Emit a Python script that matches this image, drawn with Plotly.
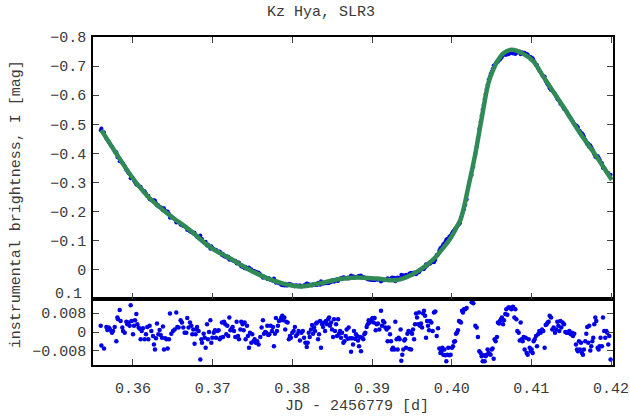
import plotly.graph_objects as go

jd = [
    0.35595, 0.35603, 0.35636, 0.35666, 0.35678, 0.35695, 0.35707, 0.35728, 0.35737, 0.35749,
    0.35770, 0.35791, 0.35804, 0.35812, 0.35833, 0.35845, 0.35866, 0.35875, 0.35896, 0.35916,
    0.35929, 0.35946, 0.35958, 0.35971, 0.35983, 0.36000, 0.36013, 0.36025, 0.36042, 0.36054,
    0.36071, 0.36084, 0.36096, 0.36109, 0.36125, 0.36146, 0.36163, 0.36180, 0.36192, 0.36209,
    0.36230, 0.36251, 0.36263, 0.36276, 0.36288, 0.36301, 0.36318, 0.36334, 0.36347, 0.36364,
    0.36376, 0.36389, 0.36405, 0.36422, 0.36435, 0.36451, 0.36464, 0.36481, 0.36502, 0.36523,
    0.36543, 0.36556, 0.36573, 0.36598, 0.36614, 0.36631, 0.36648, 0.36669, 0.36681, 0.36698,
    0.36715, 0.36732, 0.36744, 0.36757, 0.36773, 0.36786, 0.36798,
    0.36804, 0.36824, 0.36845, 0.36858, 0.36866, 0.36887, 0.36900, 0.36912, 0.36929, 0.36941,
    0.36954, 0.36971, 0.36983, 0.36996, 0.37013, 0.37029, 0.37042, 0.37059, 0.37075, 0.37088,
    0.37100, 0.37117, 0.37130, 0.37142, 0.37159, 0.37171, 0.37184, 0.37196, 0.37209, 0.37222,
    0.37238, 0.37251, 0.37268, 0.37284, 0.37301, 0.37318, 0.37330, 0.37347, 0.37359, 0.37376,
    0.37389, 0.37401, 0.37414, 0.37431, 0.37443, 0.37456, 0.37468, 0.37485, 0.37497, 0.37514,
    0.37527, 0.37543, 0.37560, 0.37577, 0.37598, 0.37614, 0.37631, 0.37644, 0.37660, 0.37673,
    0.37686, 0.37698, 0.37711, 0.37727, 0.37744, 0.37757, 0.37769, 0.37782, 0.37794, 0.37807,
    0.37819, 0.37832, 0.37849, 0.37861, 0.37874, 0.37886, 0.37899, 0.37911, 0.37924, 0.37941,
    0.37957, 0.37970, 0.37982, 0.37999, 0.38016, 0.38032, 0.38045, 0.38062, 0.38078, 0.38095,
    0.38114, 0.38131, 0.38147, 0.38164, 0.38181, 0.38193, 0.38206, 0.38218, 0.38235, 0.38248,
    0.38260, 0.38273, 0.38285, 0.38298, 0.38310, 0.38323, 0.38335, 0.38348, 0.38360, 0.38373,
    0.38386, 0.38398, 0.38411, 0.38423, 0.38436, 0.38448, 0.38461, 0.38473, 0.38486, 0.38498,
    0.38511, 0.38523, 0.38536, 0.38549, 0.38561, 0.38574, 0.38586, 0.38599, 0.38611, 0.38624,
    0.38641, 0.38653, 0.38670, 0.38682, 0.38695, 0.38707, 0.38724, 0.38737, 0.38749, 0.38762,
    0.38774, 0.38787, 0.38799, 0.38812, 0.38824, 0.38837, 0.38850, 0.38862, 0.38875, 0.38891,
    0.38904, 0.38916, 0.38933, 0.38946, 0.38958, 0.38971, 0.38983, 0.38996, 0.39008, 0.39021,
    0.39033, 0.39046, 0.39059, 0.39075, 0.39092, 0.39113, 0.39125, 0.39138, 0.39155, 0.39167,
    0.39184, 0.39196, 0.39209, 0.39226, 0.39238, 0.39251, 0.39263, 0.39280, 0.39293, 0.39309,
    0.39322, 0.39334, 0.39347, 0.39359, 0.39368, 0.39380, 0.39393, 0.39405,
    0.39415, 0.39427, 0.39444, 0.39457, 0.39469, 0.39482, 0.39490, 0.39503, 0.39515, 0.39528,
    0.39540, 0.39553, 0.39565, 0.39578, 0.39590, 0.39603, 0.39615, 0.39628, 0.39641, 0.39653,
    0.39666, 0.39678, 0.39691, 0.39703, 0.39716, 0.39728, 0.39745, 0.39762, 0.39778, 0.39795,
    0.39812, 0.39829, 0.39845, 0.39858, 0.39870, 0.39883, 0.39895, 0.39908, 0.39921, 0.39933,
    0.39946, 0.39958, 0.39971, 0.39987, 0.40004, 0.40017, 0.40029, 0.40042, 0.40054, 0.40067,
    0.40079, 0.40092, 0.40105, 0.40117, 0.40130, 0.40142, 0.40155, 0.40171, 0.40188, 0.40251,
    0.40272, 0.40297, 0.40314, 0.40330, 0.40347, 0.40364, 0.40376, 0.40389, 0.40401, 0.40414,
    0.40426, 0.40439, 0.40451, 0.40464, 0.40477, 0.40489, 0.40502, 0.40514, 0.40527, 0.40539,
    0.40552, 0.40568, 0.40581, 0.40594, 0.40606, 0.40619, 0.40631, 0.40644, 0.40656, 0.40673,
    0.40686, 0.40698, 0.40711,
    0.40728, 0.40749, 0.40770, 0.40787, 0.40799, 0.40812, 0.40824, 0.40841, 0.40854, 0.40866,
    0.40879, 0.40891, 0.40904, 0.40916, 0.40929, 0.40941, 0.40954, 0.40967, 0.40979, 0.40992,
    0.41004, 0.41017, 0.41029, 0.41042, 0.41059, 0.41071, 0.41084, 0.41100, 0.41117, 0.41134,
    0.41150, 0.41167, 0.41180, 0.41192, 0.41205, 0.41217, 0.41230, 0.41247, 0.41263, 0.41280,
    0.41297, 0.41314, 0.41326, 0.41339, 0.41351, 0.41364, 0.41376, 0.41393, 0.41410, 0.41426,
    0.41443, 0.41460, 0.41477, 0.41493, 0.41510, 0.41523, 0.41539, 0.41560, 0.41573, 0.41585,
    0.41598, 0.41610, 0.41623, 0.41635, 0.41648, 0.41660, 0.41677, 0.41690, 0.41702, 0.41715,
    0.41727, 0.41740, 0.41752, 0.41765, 0.41777, 0.41790, 0.41803, 0.41815, 0.41832, 0.41844,
    0.41857, 0.41869, 0.41886, 0.41899, 0.41915, 0.41928, 0.41941, 0.41953, 0.41966, 0.41978,
    0.41995,
]

mag = [
    -0.480, -0.486, -0.473, -0.451, -0.447, -0.439, -0.434, -0.426, -0.423, -0.417,
    -0.406, -0.404, -0.388, -0.386, -0.373, -0.373, -0.367, -0.365, -0.357, -0.344,
    -0.340, -0.332, -0.329, -0.315, -0.316, -0.315, -0.307, -0.301, -0.293, -0.293,
    -0.289, -0.285, -0.286, -0.278, -0.272, -0.270, -0.262, -0.253, -0.255, -0.243,
    -0.241, -0.238, -0.239, -0.238, -0.230, -0.221, -0.222, -0.216, -0.215, -0.213,
    -0.205, -0.212, -0.203, -0.200, -0.201, -0.193, -0.179, -0.184, -0.179, -0.174,
    -0.163, -0.166, -0.163, -0.155, -0.153, -0.151, -0.150, -0.146, -0.137, -0.138,
    -0.132, -0.130, -0.130, -0.125, -0.128, -0.121, -0.116,
    -0.114, -0.111, -0.118, -0.106, -0.106, -0.097, -0.096, -0.097, -0.084, -0.087,
    -0.081, -0.073, -0.081, -0.076, -0.072, -0.068, -0.069, -0.064, -0.061, -0.063,
    -0.060, -0.051, -0.055, -0.047, -0.045, -0.048, -0.042, -0.045, -0.035, -0.038,
    -0.035, -0.032, -0.031, -0.031, -0.022, -0.025, -0.025, -0.018, -0.012, -0.011,
    -0.011, -0.006, -0.011, -0.003, -0.005, -0.008, 0.000, -0.002, 0.003, 0.003,
    0.005, 0.006, 0.009, 0.009, 0.015, 0.021, 0.027, 0.023, 0.025, 0.027,
    0.031, 0.028, 0.030, 0.035, 0.034, 0.037, 0.030, 0.037, 0.044, 0.040,
    0.043, 0.046, 0.048, 0.051, 0.053, 0.052, 0.054, 0.049, 0.054, 0.054,
    0.048, 0.050, 0.049, 0.052, 0.054, 0.056, 0.053, 0.054, 0.056, 0.053,
    0.057, 0.056, 0.053, 0.050, 0.047, 0.048, 0.052, 0.050, 0.052, 0.054,
    0.049, 0.051, 0.049, 0.052, 0.052, 0.044, 0.046, 0.051, 0.039, 0.048,
    0.046, 0.047, 0.043, 0.046, 0.044, 0.046, 0.045, 0.041, 0.042, 0.038,
    0.034, 0.041, 0.035, 0.037, 0.032, 0.038, 0.031, 0.031, 0.028, 0.030,
    0.025, 0.026, 0.028, 0.030, 0.026, 0.030, 0.025, 0.019, 0.025, 0.022,
    0.027, 0.024, 0.025, 0.024, 0.023, 0.020, 0.025, 0.019, 0.025, 0.024,
    0.026, 0.027, 0.030, 0.032, 0.033, 0.033, 0.034, 0.034, 0.035, 0.033,
    0.036, 0.031, 0.033, 0.034, 0.032, 0.040, 0.034, 0.036, 0.036, 0.034,
    0.034, 0.029, 0.035, 0.032, 0.030, 0.026, 0.027, 0.027, 0.039, 0.032,
    0.026, 0.030, 0.028, 0.031, 0.017, 0.018, 0.019, 0.022,
    0.021, 0.017, 0.021, 0.021, 0.012, 0.018, 0.010, 0.015, 0.016, 0.009,
    0.013, 0.015, 0.011, 0.006, 0.008, 0.000, -0.001, -0.005, -0.002, -0.003,
    -0.008, -0.019, -0.014, -0.019, -0.023, -0.021, -0.025, -0.032, -0.026, -0.034,
    -0.051, -0.053, -0.067, -0.074, -0.077, -0.080, -0.088, -0.090, -0.097, -0.104,
    -0.106, -0.107, -0.115, -0.118, -0.126, -0.132, -0.135, -0.141, -0.144, -0.150,
    -0.154, -0.157, -0.161, -0.180, -0.190, -0.204, -0.208, -0.224, -0.242, -0.326,
    -0.354, -0.397, -0.424, -0.452, -0.484, -0.510, -0.530, -0.551, -0.566, -0.587,
    -0.603, -0.621, -0.636, -0.653, -0.663, -0.673, -0.681, -0.690, -0.702, -0.701,
    -0.709, -0.716, -0.715, -0.720, -0.723, -0.727, -0.731, -0.738, -0.740, -0.739,
    -0.739, -0.742, -0.741,
    -0.743, -0.746, -0.743, -0.746, -0.742, -0.745, -0.749, -0.748, -0.750, -0.741,
    -0.747, -0.747, -0.743, -0.746, -0.738, -0.742, -0.740, -0.731, -0.732, -0.731,
    -0.728, -0.727, -0.719, -0.713, -0.704, -0.704, -0.693, -0.685, -0.678, -0.670,
    -0.664, -0.664, -0.649, -0.643, -0.637, -0.632, -0.624, -0.618, -0.616, -0.609,
    -0.604, -0.595, -0.587, -0.584, -0.581, -0.571, -0.569, -0.560, -0.553, -0.550,
    -0.543, -0.535, -0.527, -0.522, -0.514, -0.509, -0.502, -0.497, -0.494, -0.489,
    -0.479, -0.477, -0.470, -0.469, -0.465, -0.458, -0.448, -0.440, -0.432, -0.434,
    -0.422, -0.428, -0.421, -0.414, -0.408, -0.397, -0.389, -0.386, -0.391, -0.386,
    -0.379, -0.371, -0.367, -0.350, -0.349, -0.346, -0.338, -0.333, -0.333, -0.324,
    -0.327,
]

resid = [
    0.0026, -0.0057, -0.0070, 0.0021, 0.0009, 0.0019, 0.0014, 0.0004, -0.0003, 0.0004,
    0.0021, -0.0039, 0.0061, 0.0054, 0.0093, 0.0047, 0.0019, 0.0004, -0.0003, 0.0044,
    0.0033, 0.0040, 0.0026, 0.0113, 0.0047, -0.0010, 0.0026, 0.0050, 0.0076, 0.0033,
    0.0019, 0.0014, -0.0031, 0.0004, 0.0016, -0.0031, -0.0010, 0.0021, -0.0031, 0.0026,
    0.0004, -0.0017, -0.0053, -0.0074, -0.0027, 0.0036, -0.0010, 0.0009, -0.0013, -0.0024,
    0.0023, -0.0074, -0.0027, -0.0031, -0.0070, -0.0031, 0.0079, -0.0007, 0.0004, 0.0011,
    0.0083, 0.0021, 0.0019, 0.0050, 0.0040, 0.0019, -0.0003, -0.0003, 0.0059, 0.0019,
    0.0040, 0.0026, -0.0010, 0.0011, -0.0050, -0.0010, 0.0011,
    0.0021, 0.0004, -0.0117, -0.0031, -0.0046, -0.0007, -0.0024, -0.0067, 0.0033, -0.0031,
    0.0000, 0.0050, -0.0046, -0.0024, -0.0003, 0.0007, -0.0024, 0.0004, 0.0007, -0.0031,
    -0.0024, 0.0040, -0.0021, 0.0044, 0.0033, -0.0010, 0.0026, -0.0017, 0.0061, 0.0007,
    0.0014, 0.0021, 0.0004, -0.0021, 0.0044, -0.0017, -0.0031, 0.0011, 0.0044, 0.0033,
    0.0007, 0.0040, -0.0031, 0.0026, -0.0017, -0.0067, -0.0003, -0.0046, -0.0010, -0.0039,
    -0.0031, -0.0046, -0.0039, -0.0053, -0.0021, 0.0019, 0.0050, -0.0007, 0.0000, -0.0003,
    0.0026, -0.0013, -0.0010, 0.0026, 0.0004, 0.0021, -0.0060, -0.0007, 0.0059, 0.0004,
    0.0026, 0.0047, 0.0050, 0.0061, 0.0069, 0.0050, 0.0061, 0.0011, 0.0044, 0.0040,
    -0.0031, -0.0017, -0.0024, -0.0003, 0.0004, 0.0021, -0.0017, -0.0010, 0.0004, -0.0036,
    -0.0003, 0.0004, -0.0024, -0.0046, -0.0064, -0.0046, -0.0003, -0.0021, 0.0011, 0.0030,
    -0.0007, 0.0019, 0.0004, 0.0036, 0.0040, -0.0031, -0.0010, 0.0047, -0.0067, 0.0033,
    0.0021, 0.0040, 0.0004, 0.0047, 0.0033, 0.0054, 0.0061, 0.0026, 0.0040, 0.0011,
    -0.0021, 0.0054, 0.0004, 0.0033, -0.0017, 0.0054, -0.0007, 0.0004, -0.0024, -0.0003,
    -0.0046, -0.0039, -0.0017, 0.0011, -0.0029, 0.0019, -0.0027, -0.0084, -0.0027, -0.0053,
    0.0004, -0.0029, -0.0010, -0.0017, -0.0036, -0.0060, -0.0021, -0.0082, -0.0024, -0.0031,
    -0.0010, -0.0003, 0.0021, 0.0033, 0.0050, 0.0040, 0.0047, 0.0054, 0.0059, 0.0040,
    0.0059, 0.0007, 0.0033, 0.0036, 0.0011, 0.0090, 0.0026, 0.0047, 0.0040, 0.0019,
    0.0011, -0.0039, 0.0019, -0.0010, -0.0039, -0.0074, -0.0067, -0.0074, 0.0044, -0.0031,
    -0.0074, -0.0024, -0.0031, 0.0011, -0.0122, -0.0096, -0.0074, -0.0036,
    -0.0031, -0.0067, -0.0007, 0.0004, -0.0072, 0.0000, -0.0074, -0.0007, 0.0011, -0.0031,
    0.0033, 0.0079, 0.0061, 0.0033, 0.0083, 0.0026, 0.0036, 0.0019, 0.0079, 0.0090,
    0.0069, -0.0024, 0.0047, 0.0026, 0.0007, 0.0047, 0.0040, 0.0004, 0.0083, 0.0087,
    -0.0017, 0.0016, -0.0070, -0.0089, -0.0082, -0.0067, -0.0096, -0.0074, -0.0099, -0.0124,
    -0.0096, -0.0067, -0.0099, -0.0096, -0.0067, -0.0060, -0.0041, -0.0039, -0.0007, -0.0003,
    0.0007, 0.0047, 0.0044, 0.0040, 0.0090, 0.0083, 0.0097, 0.0097, 0.0102, 0.0126,
    0.0122, 0.0026, 0.0019, -0.0021, -0.0082, -0.0089, -0.0103, -0.0124, -0.0099, -0.0124,
    -0.0103, -0.0096, -0.0074, -0.0089, -0.0093, -0.0096, -0.0074, -0.0070, -0.0113, -0.0031,
    -0.0039, -0.0021, 0.0040, 0.0036, 0.0047, 0.0054, 0.0061, 0.0033, 0.0050, 0.0076,
    0.0097, 0.0073, 0.0104,
    0.0104, 0.0097, 0.0107, 0.0061, 0.0097, 0.0054, 0.0004, -0.0003, -0.0036, 0.0040,
    -0.0031, -0.0039, -0.0021, -0.0074, -0.0024, -0.0089, -0.0096, -0.0031, -0.0067, -0.0082,
    -0.0074, -0.0089, -0.0039, -0.0031, -0.0017, -0.0060, -0.0010, 0.0004, -0.0003, 0.0011,
    0.0004, -0.0067, 0.0030, 0.0033, 0.0040, 0.0044, 0.0069, 0.0061, 0.0011, 0.0019,
    -0.0003, 0.0011, 0.0044, 0.0026, 0.0004, 0.0047, 0.0019, 0.0040, 0.0033, 0.0000,
    -0.0003, -0.0003, 0.0004, -0.0010, -0.0003, -0.0017, -0.0007, -0.0053, -0.0074, -0.0082,
    -0.0039, -0.0074, -0.0046, -0.0089, -0.0096, -0.0074, -0.0039, -0.0007, 0.0021, -0.0046,
    0.0026, -0.0079, -0.0060, -0.0039, -0.0024, 0.0033, 0.0061, 0.0047, -0.0067, -0.0074,
    -0.0060, -0.0024, -0.0060, 0.0061, 0.0004, -0.0024, 0.0004, -0.0003, -0.0053, -0.0017,
    -0.0117,
]

# ---- fitted model curve (green line) ----
model_jd = [0.35602, 0.35790, 0.36000, 0.36209, 0.36460, 0.36711, 0.36963, 0.37214, 0.37465,
            0.37680, 0.37900, 0.38100, 0.38350, 0.38600, 0.38810, 0.39060, 0.39310, 0.39510,
            0.39770, 0.39853, 0.39979, 0.40060, 0.40110, 0.40150, 0.40210, 0.40290, 0.40380,
            0.40460, 0.40520, 0.40570, 0.40650, 0.40750, 0.40900, 0.41030, 0.41150, 0.41400,
            0.41610, 0.41820, 0.42010]
model_mag = [-0.480, -0.400, -0.314, -0.246, -0.188, -0.137, -0.079, -0.040, 0.000,
             0.028, 0.048, 0.057, 0.046, 0.031, 0.026, 0.030, 0.035, 0.015,
             -0.036, -0.062, -0.106, -0.145, -0.172, -0.210, -0.286, -0.389, -0.526,
             -0.641, -0.687, -0.715, -0.744, -0.756, -0.742, -0.715, -0.664, -0.561,
             -0.470, -0.389, -0.309]

assert len(jd) == len(mag) == len(resid), (len(jd), len(mag), len(resid))
assert len(model_jd) == len(model_mag)

x_ticks = [0.36, 0.37, 0.38, 0.39, 0.40, 0.41, 0.42]
y_main_ticks = [-0.8, -0.7, -0.6, -0.5, -0.4, -0.3, -0.2, -0.1, 0.0, 0.1]
# the lowest main label (0.1) sits on the panel border; it is drawn as a separate text
y_main_labels = ["\u22120.8", "\u22120.7", "\u22120.6", "\u22120.5", "\u22120.4",
                 "\u22120.3", "\u22120.2", "\u22120.1", "0", ""]
border_label = "0.1"
y_res_ticks = [-0.008, 0.0, 0.008]
y_res_labels = ["\u22120.008", "0", "0.008"]

title_text = "Kz Hya, SLR3"
x_title = "JD - 2456779 [d]"
y_title = "instrumental brightness, I [mag]"

BLUE = "#0000e6"
GREEN = "#2f8a55"
FONT = "Liberation Mono, Courier New, monospace"
TXT = "#3a3a3a"

fig = go.Figure()
fig.add_trace(go.Scatter(x=jd, y=mag, mode="markers",
                         marker=dict(color=BLUE, size=4, line=dict(width=0)),
                         xaxis="x2", yaxis="y2", showlegend=False))
fig.add_trace(go.Scatter(x=model_jd, y=model_mag, mode="lines",
                         line=dict(color=GREEN, width=4.5, shape="spline", smoothing=1.0),
                         xaxis="x2", yaxis="y2", showlegend=False))
fig.add_trace(go.Scatter(x=jd, y=resid, mode="markers",
                         marker=dict(color=BLUE, size=4.5, line=dict(width=0)),
                         xaxis="x", yaxis="y", showlegend=False))

split = 66 / 328
xr = [0.35498, 0.42025]
common = dict(showline=True, linecolor="black", linewidth=1.5, ticks="inside",
              ticklen=6, tickwidth=1, tickcolor="#444", showgrid=False, zeroline=False,
              automargin=False,
              tickfont=dict(family=FONT, size=15, color=TXT))

fig.update_layout(
    width=630, height=416,
    margin=dict(l=93, r=17, t=37, b=51),
    paper_bgcolor="white", plot_bgcolor="white",
    xaxis=dict(domain=[0, 1], range=xr, anchor="y", tickvals=x_ticks, tickformat=".2f",
               mirror=True, ticklabelstandoff=8, **common),
    xaxis2=dict(domain=[0, 1], range=xr, anchor="y2", matches="x", tickvals=x_ticks,
                showticklabels=False, mirror="ticks", **common),
    yaxis=dict(domain=[0, split], range=[-0.014, 0.014], anchor="x", tickvals=y_res_ticks,
               ticktext=y_res_labels, mirror="ticks", ticklabelstandoff=2, **common),
    yaxis2=dict(domain=[split, 1], range=[0.1, -0.8], anchor="x2", tickvals=y_main_ticks,
                ticktext=y_main_labels, mirror="ticks", ticklabelstandoff=2, **common),
    annotations=[
        dict(text=title_text, xref="paper", yref="paper", x=0.4385, y=1 + 25 / 328,
             xanchor="center", yanchor="middle", showarrow=False,
             font=dict(family=FONT, size=15, color=TXT)),
        dict(text=x_title, xref="paper", yref="paper", x=0.5077, y=-42 / 328,
             xanchor="center", yanchor="middle", showarrow=False,
             font=dict(family=FONT, size=15, color=TXT)),
        dict(text=y_title, xref="paper", yref="paper", x=-77 / 520, y=0.49,
             xanchor="center", yanchor="middle", showarrow=False, textangle=-90,
             font=dict(family=FONT, size=15, color=TXT)),
        dict(text=border_label, xref="paper", yref="y2", x=-10 / 520, y=y_main_ticks[-1],
             xanchor="right", yanchor="middle", yshift=5, showarrow=False, borderpad=0,
             font=dict(family=FONT, size=15, color=TXT)),
    ],
)

fig.write_html("out.html")
